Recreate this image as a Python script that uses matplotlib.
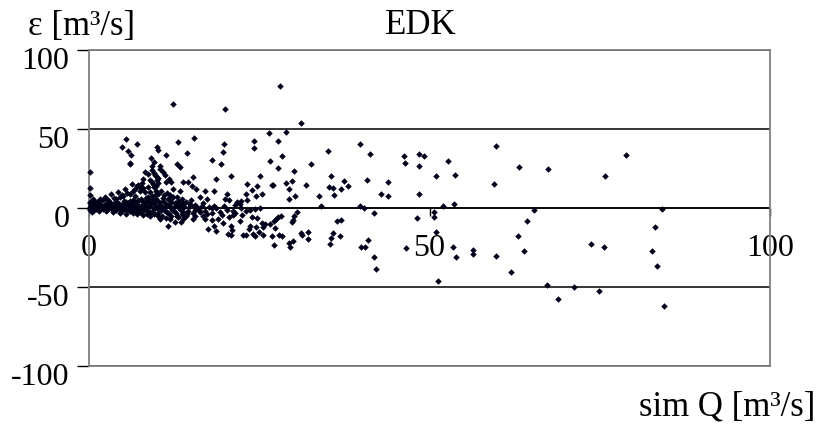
import matplotlib
matplotlib.use('Agg')
import matplotlib.pyplot as plt
import matplotlib.transforms as mtransforms

plt.rcParams['font.family'] = ['Liberation Serif', 'DejaVu Serif']

title = 'EDK'
y_label = 'ε [m³/s]'
x_label = 'sim Q [m³/s]'
y_ticks = [-100, -50, 0, 50, 100]
y_tick_labels = ['-100', '-50', '0', '50', '100']
x_ticks = [0, 50, 100]
x_tick_labels = ['0', '50', '100']

# scattered points (sim Q [m3/s], error [m3/s])
pts_far = [
    (28.0, 77.4), (31.2, 53.6), (28.9, 48.3), (39.8, 40.7), (28.3, 32.9), (35.1, 35.9), (41.3, 34.4),
    (32.6, 28.0), (30.1, 23.2), (28.9, 16.0), (29.8, 16.9), (29.4, 12.0), (30.3, 7.8), (29.4, 5.9),
    (31.8, 14.8), (35.5, 20.5), (35.2, 13.5), (35.8, 12.5), (36.0, 8.0), (37.5, 16.9), (37.0, 12.3),
    (38.1, 13.7), (33.8, 7.8), (34.0, 1.1), (39.8, 1.3), (40.4, 0.0), (40.8, 17.5), (43.9, 16.5),
    (42.9, 9.1), (43.9, 7.8), (41.8, -3.0), (46.3, 32.7), (46.4, 28.5), (48.5, 34.4), (49.2, 32.7),
    (48.4, 26.4), (52.7, 29.9), (53.8, 20.9), (51.0, 20.1), (48.4, 8.7), (52.0, 1.1), (53.6, 2.5),
    (50.6, -2.3), (50.7, -5.9), (48.2, -6.5), (51.0, -15.0), (53.5, -24.5), (53.9, -30.8), (56.4, -26.4),
    (56.4, -29.1), (59.7, -30.4), (61.9, -40.7), (51.3, -46.4), (46.6, -25.3), (59.8, 39.2), (63.2, 25.9),
    (59.4, 15.0), (64.3, -8.2), (63.0, -17.9), (63.9, -27.4), (28.2, -5.1), (30.5, -2.5), (30.1, -5.3),
    (29.9, -7.4), (29.8, -9.1), (28.3, -17.5), (29.4, -22.3), (29.5, -24.5), (30.0, -20.7), (31.1, -15.8),
    (31.3, -16.9), (32.1, -15.4), (32.2, -19.6), (35.4, -22.6), (35.6, -18.8), (35.8, -15.6), (36.4, -8.2),
    (37.0, -7.8), (36.8, -17.9), (39.9, -24.7), (40.6, -24.5), (41.0, -20.3), (41.8, -30.8), (42.2, -38.6),
    (67.4, 24.7), (75.7, 20.3), (78.9, 33.5), (65.3, -1.1), (84.1, -0.6), (83.1, -12.0), (73.7, -22.8),
    (75.6, -24.5), (82.6, -27.4), (83.4, -36.9), (67.2, -48.5), (71.2, -50.0), (74.9, -52.3), (68.8, -57.8),
    (84.5, -62.0),
]

pts_mid = [
    (12.3, 65.8), (19.9, 62.5), (5.5, 43.7), (4.9, 38.4), (7.0, 40.5), (10.0, 38.6), (13.1, 42.0),
    (15.4, 44.1), (19.8, 40.5), (24.2, 42.2), (24.3, 38.2), (26.5, 47.3), (27.8, 42.4),
    (26.6, 29.6), (27.7, 25.3), (27.0, 14.4), (26.6, -10.1), (27.2, -8.4), (27.8, -5.5), (27.3, -12.7),
    (26.8, -17.5), (27.2, -23.6),
    (10.2, 36.5), (14.4, 34.6), (11.3, 33.5), (9.1, 31.5), (9.6, 28.9), (10.4, 26.4), (12.9, 28.0),
    (13.4, 26.1), (19.7, 35.6), (18.1, 30.6), (19.4, 28.0), (10.9, 23.0), (11.2, 20.6), (11.8, 18.4),
    (12.1, 16.3), (11.3, 16.6), (15.3, 19.8), (13.8, 16.3), (14.5, 16.3), (15.1, 14.1), (15.7, 12.0),
    (18.6, 18.4), (20.9, 20.1), (17.0, 11.0), (18.3, 11.0), (23.2, 15.4), (24.0, 11.4), (24.7, 13.7),
    (25.1, 20.3), (26.9, 14.8), (25.4, 8.7), (20.2, 8.7), (20.5, 5.3), (21.8, 4.1), (22.3, 4.7),
    (23.2, 5.3), (21.4, 1.9), (16.3, 6.8), (17.3, 5.7), (16.8, 3.2), (14.8, 1.1), (13.6, 5.7),
    (13.8, 1.5), (12.9, 7.2), (11.9, 8.4), (18.3, 1.5), (19.8, 1.1), (21.1, -2.1), (21.4, -3.4),
    (23.0, -1.9), (23.6, -1.3), (24.4, -0.6), (25.1, -0.2), (21.1, -4.4), (22.5, -4.4), (24.0, -5.9),
    (24.6, -6.5), (23.6, -11.2), (24.5, -11.8), (25.4, -9.7), (25.9, -10.1), (27.4, -7.0), (27.9, -17.4),
    (25.6, -16.8), (24.9, -15.4), (24.4, -17.9), (23.0, -17.4), (22.6, -17.1), (23.5, -13.3), (20.8, -11.2),
    (21.0, -13.7), (20.9, -17.1), (20.4, -16.7), (19.7, -9.5), (19.0, -7.0), (18.1, -7.6), (18.3, -11.2),
    (17.5, -13.3), (17.0, -7.0), (16.8, -5.3), (17.3, -3.8), (16.3, -2.7), (15.6, -4.9), (15.3, -7.0),
    (14.3, -5.3), (13.8, -7.0), (13.5, -8.7), (12.6, -9.1), (11.9, -7.0), (11.3, -6.3), (10.7, -4.9),
    (5.8, 36.3), (6.1, 33.7), (6.0, 28.5), (23.1, 9.0), (24.5, 7.4), (20.0, 5.7), (22.1, 2.5),
    (18.1, -0.2), (22.3, -0.2), (22.1, -8.0), (24.1, -16.5), (25.5, -12.2), (18.7, -14.4), (11.6, -11.2),
    (10.4, -7.0), (10.2, -4.9), (8.5, -3.8), (7.5, -2.7), (6.0, -1.9),
]

pts_near = [
    (0.1, 23.0), (0.1, 12.5), (6.0, 27.8), (8.2, 23.0), (9.2, 26.8), (10.4, 24.7), (8.7, 21.5),
    (9.7, 20.6), (8.0, 18.4), (9.2, 16.3), (9.9, 14.1), (6.3, 15.2), (5.3, 12.0), (4.3, 9.9),
    (3.3, 8.9), (2.3, 6.8), (1.6, 5.7), (0.9, 4.0), (7.5, 11.0), (8.2, 9.9), (9.0, 9.9), (6.8, 7.8),
    (4.9, 8.2), (6.8, 12.0), (7.2, 14.6),
    (0.2, 0.5), (0.3, 2.0), (0.4, -0.5), (0.5, 1.2), (0.6, 3.0), (0.8, 0.2), (1.0, 1.8), (1.1, -0.8),
    (1.3, 0.8), (1.5, 2.6), (1.7, 0.1), (1.9, 1.4), (2.1, -0.6), (2.3, 2.2), (2.5, 0.6), (2.7, 3.2),
    (2.9, -0.3), (3.1, 1.6), (3.3, 0.0), (3.5, 2.4), (3.7, -1.0), (3.9, 1.0), (4.1, 3.6), (4.3, 0.4),
    (4.5, -0.8), (4.7, 2.0), (4.9, 0.9), (5.1, 4.2), (5.3, -0.4), (5.5, 1.5), (5.7, 3.0), (5.9, -1.5),
    (6.1, 0.7), (6.3, 2.5), (6.5, 5.0), (6.7, -0.9), (6.9, 1.8), (7.1, 3.8), (7.3, -2.0), (7.5, 0.3),
    (7.7, 6.0), (7.9, 2.2), (8.1, -1.2), (8.3, 4.5), (8.5, 0.8), (8.7, 7.0), (8.9, -2.5), (9.1, 2.8),
    (9.3, 5.5), (9.5, -0.5), (9.7, 8.0), (9.9, 1.5), (10.1, -3.0), (10.3, 4.0), (10.5, 11.0), (10.7, 0.5),
    (10.9, 6.5), (11.1, -1.8), (11.3, 2.5), (11.5, 9.5), (11.7, -3.5), (11.9, 4.8), (12.1, 0.2),
    (12.3, 12.0), (12.5, -2.2), (12.7, 3.2), (12.9, -5.0), (13.1, 2.0), (13.3, 10.5), (13.5, -1.0),
    (13.9, -3.0), (14.2, 3.8), (14.6, -2.0), (15.0, 4.8), (15.5, -1.5), (16.0, 0.0), (8.0, 12.5),
    (9.5, 13.0), (10.0, 17.5), (9.6, 22.0), (10.2, 19.0), (9.8, 11.0), (7.0, 14.0), (7.8, 16.0),
    (3.0, 4.5), (4.0, 6.0), (2.0, 4.8), (6.0, 9.0), (1.2, 3.5), (5.0, 7.5), (0.1, -1.5), (0.2, 4.0),
    (0.5, -2.5), (1.5, -1.8), (2.5, -2.2), (3.5, -2.8), (4.5, -3.0), (5.5, -3.5), (6.5, -3.2),
    (7.0, -4.0), (8.0, -4.5), (9.0, -5.0), (9.5, -3.8), (12.0, -4.8), (13.0, -6.0), (14.0, -6.0),
]

pts_dense = [
    (0.3, 1.0), (0.7, -1.0), (0.9, 2.4), (1.2, 0.3), (1.4, -1.2), (1.8, 2.0), (2.0, 0.2), (2.2, 1.0),
    (2.6, -1.0), (2.8, 1.8), (3.0, 0.6), (3.2, 2.8), (3.4, -0.6), (3.6, 1.2), (3.8, 3.0), (4.0, -1.4),
    (4.2, 1.8), (4.4, 2.6), (4.6, 0.0), (4.8, -1.8), (5.0, 2.8), (5.2, 1.0), (5.4, 3.6), (5.6, -0.6),
    (5.8, 2.0), (6.0, 4.2), (6.2, -0.2), (6.4, 1.2), (6.6, 3.2), (6.8, -2.0), (7.0, 2.6), (7.2, 5.2),
    (7.4, -0.4), (7.6, 1.4), (7.8, 4.2), (8.0, 0.0), (8.2, 2.8), (8.4, 6.2), (8.6, -1.8), (8.8, 3.6),
    (9.0, 1.0), (9.2, 7.8), (9.4, -2.4), (9.6, 3.0), (9.8, 5.8), (10.0, 0.0), (10.2, 9.0), (10.4, 2.2),
    (10.6, -1.2), (10.8, 4.6), (11.0, 8.2), (11.2, 0.8), (11.4, -2.8), (11.6, 6.0), (11.8, 2.0),
    (12.0, 3.8), (12.2, -1.0), (12.4, 7.0), (12.6, 1.0), (12.8, -3.2), (13.0, 4.6), (13.2, -0.2),
    (13.4, 2.6), (13.6, -4.0), (13.8, 3.4), (14.0, 0.4), (14.4, -3.6), (14.8, 2.4), (15.2, -3.0),
    (15.6, 1.6), (16.2, -1.0), (16.6, 1.2), (17.0, -2.0), (17.6, 0.8), (18.0, -3.0), (18.6, 0.2),
    (19.2, -2.4), (19.6, -4.6), (20.2, -1.0), (20.6, -5.6), (9.4, 15.0), (9.0, 18.0), (9.9, 20.0),
    (9.3, 24.0), (10.1, 15.8), (8.6, 13.5), (7.6, 12.8), (6.4, 10.5), (5.6, 9.8), (4.6, 7.0),
    (3.6, 6.4), (2.6, 5.6), (1.4, 4.6), (0.6, 6.0), (0.2, 8.0), (0.1, 3.0), (0.1, -0.5),
]

points = pts_far + pts_mid + pts_near + pts_dense
sim_q = [p[0] for p in points]
eps = [p[1] for p in points]

W, H = 823, 425
fig = plt.figure(figsize=(W / 100, H / 100), dpi=100)
L, R, T, B = 89, 770, 50, 366
ax = fig.add_axes([L / W, 1 - B / H, (R - L) / W, (B - T) / H])

ax.scatter(sim_q, eps, marker='D', s=11, color='#00001a', linewidths=0, zorder=3, clip_on=False)

ax.set_xlim(0, 100)
ax.set_ylim(-100, 100)
ax.set_yticks(y_ticks)
ax.set_yticklabels(y_tick_labels, fontsize=23)
ax.tick_params(axis='y', direction='out', length=9, width=1, color='black', pad=5)
ax.tick_params(axis='x', bottom=False, labelbottom=False)
ax.grid(axis='y', color='black', lw=1.1, zorder=1)
ax.set_axisbelow(True)
for s in ax.spines.values():
    s.set_color('#808080')
    s.set_linewidth(1.3)

off = mtransforms.ScaledTranslation(0, -8 / 100, fig.dpi_scale_trans)
for lab in ax.get_yticklabels():
    lab.set_transform(lab.get_transform() + off)

sec = ax.secondary_xaxis(0.5)
sec.set_alignment('bottom')
sec.set_xticks(x_ticks)
sec.set_xticklabels(x_tick_labels, fontsize=23)
sec.tick_params(axis='x', which='both', direction='out', length=6, width=1, color='black', pad=13,
                bottom=True, top=False, labelbottom=True, labeltop=False)
sec.spines['bottom'].set_color('black')
sec.spines['bottom'].set_linewidth(1.1)

fig.text(421 / W, 1 - 25 / H, title, fontsize=25, ha='center', va='center')
fig.text(28 / W, 1 - 26 / H, y_label, fontsize=25, ha='left', va='center')
fig.text(815 / W, 1 - 407 / H, x_label, fontsize=25, ha='right', va='center')

fig.savefig('out.png', dpi=100)
